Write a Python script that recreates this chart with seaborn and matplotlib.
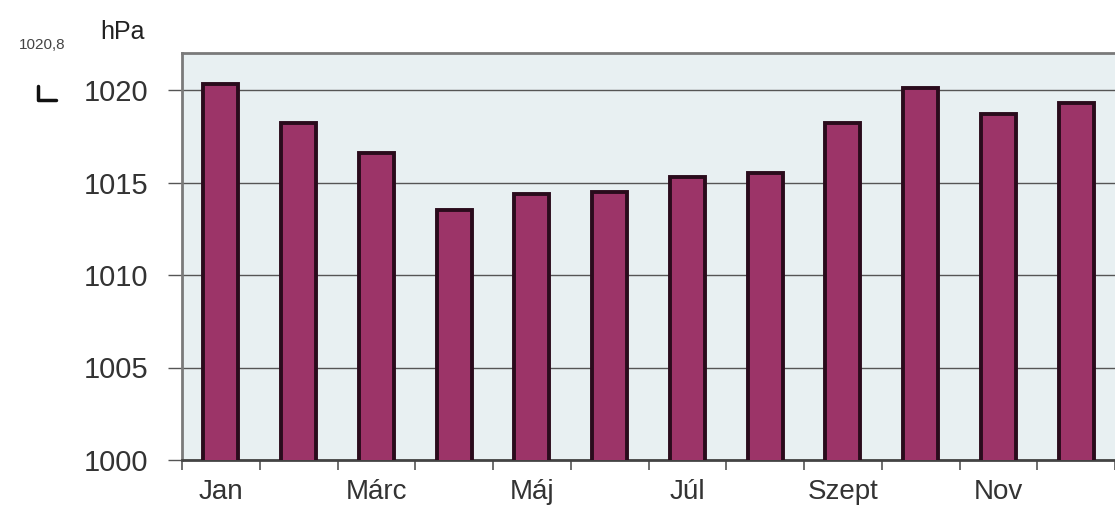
import matplotlib
matplotlib.use("Agg")
import matplotlib.pyplot as plt
import seaborn as sns
import pandas as pd
from matplotlib.lines import Line2D

# havi átlagos légnyomás (hPa)
months = ["Jan", "Febr", "Márc", "Ápr", "Máj", "Jún",
          "Júl", "Aug", "Szept", "Okt", "Nov", "Dec"]
pressure = [1020.3, 1018.2, 1016.6, 1013.5, 1014.4, 1014.5,
            1015.3, 1015.5, 1018.2, 1020.1, 1018.7, 1019.3]
shown_labels = ["Jan", "", "Márc", "", "Máj", "", "Júl", "", "Szept", "", "Nov", ""]
y_ticks = [1000, 1005, 1010, 1015, 1020]

df = pd.DataFrame({"honap": months, "hPa": pressure})

sns.set_style("white")
plt.rcParams["font.family"] = ["Liberation Sans", "DejaVu Sans"]

fig = plt.figure(figsize=(11.15, 5.15), dpi=100)
ax = fig.add_axes([182 / 1115, 55 / 515, 1 - 182 / 1115, 407 / 515])
ax.set_facecolor("#e8f0f2")

sns.barplot(data=df, x="honap", y="hPa", color="#9c3468", width=0.45,
            edgecolor="#2a0b1c", linewidth=2.8, saturation=1, ax=ax, zorder=3)

ax.set_ylim(1000, 1022)
ax.set_xlim(-0.5, 11.46)
ax.set_yticks(y_ticks)
ax.set_yticklabels([str(v) for v in y_ticks], fontsize=21, color="#333333")
ax.yaxis.grid(True, color="#555555", linewidth=1.0, zorder=1)
ax.set_axisbelow(True)

ax.set_xticks(range(12))
ax.set_xticklabels(shown_labels, fontsize=20, color="#333333")
ax.set_xticks([i - 0.5 for i in range(13)], minor=True)
ax.tick_params(axis="x", which="major", length=0, pad=14, bottom=True)
ax.tick_params(axis="x", which="minor", length=7, width=1.2, color="#555555",
               direction="out", bottom=True)
ax.tick_params(axis="y", length=10, width=1.0, color="#555555", direction="out", pad=14, left=True)
ax.set_xlabel("")
ax.set_ylabel("")

for side in ["left", "top"]:
    ax.spines[side].set_color("#7a7a7a")
    ax.spines[side].set_linewidth(2)
ax.spines["bottom"].set_color("#444444")
ax.spines["bottom"].set_linewidth(2)
ax.spines["right"].set_visible(False)

fig.text(100 / 1115, 1 - 32 / 515, "hPa", fontsize=18, color="#222222", va="center")
fig.text(66 / 1115, 1 - 45 / 515, "1020,8", fontsize=11, color="#444444", va="center", ha="right")
fig.add_artist(Line2D([38 / 1115, 38 / 1115, 56 / 1115],
                      [1 - 86 / 515, 1 - 100 / 515, 1 - 100 / 515],
                      color="#111111", linewidth=2.5))

fig.savefig("out.png", dpi=100)
